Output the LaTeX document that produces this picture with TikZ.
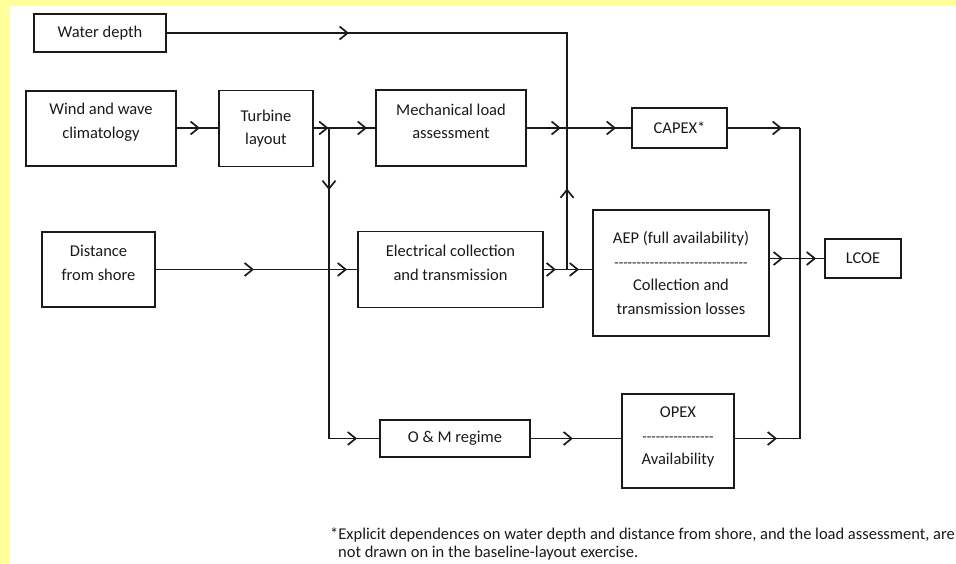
\documentclass[tikz,border=0pt]{standalone}
\usepackage{fontspec}
\setmainfont{Carlito}
\usetikzlibrary{arrows.meta,decorations.markings}
\definecolor{bgyel}{HTML}{FFFF99}
\definecolor{ink}{HTML}{1A1A1A}
\newcommand\hyph[1]{\foreach \i in {1,...,#1}{-\kern0pt}}
\tikzset{
  box/.style={draw=ink,line width=1.9pt,align=center,inner sep=0pt,
    font=\fontsize{16.5}{23.5}\selectfont,text=ink},
  lbl/.style={align=center,inner sep=0pt,font=\fontsize{16.5}{23.5}\selectfont,text=ink},
  conn/.style={draw=ink,line width=1.7pt},
  ch/.style={postaction={decorate,decoration={markings,
    mark=at position #1 with {\arrow{Straight Barb[length=8pt,width=13pt]}}}}},
  fnote/.style={anchor=base west,inner sep=0pt,font=\fontsize{16.5}{18}\selectfont,text=ink}
}
\begin{document}
\begin{tikzpicture}[x=1pt,y=-1pt]
\useasboundingbox (0,0) rectangle (956,564);
\fill[bgyel] (0,0) rectangle (956,564);
\fill[white] (10,6) rectangle (956,564);

% boxes
\node[box,minimum width=132pt,minimum height=38pt] (wd) at (100,33) {Water depth};
\node[box,minimum width=150pt,minimum height=75pt,
  label={[lbl,name=windt,yshift=6.5pt]center:{Wind and wave\\climatology}}] (wind) at (101,128.5) {};
\node[box,minimum width=94pt,minimum height=76pt] (turb) at (266,128.5) {Turbine\\layout};
\node[box,minimum width=150pt,minimum height=76pt,
  label={[lbl,name=mecht,yshift=6.5pt]center:{Mechanical load\\assessment}}] (mech) at (451,128) {};
\node[box,minimum width=95pt,minimum height=40pt] (capex) at (679.5,128) {CAPEX*};
\node[box,minimum width=113pt,minimum height=75pt,
  label={[lbl,name=distt,yshift=6.5pt]center:{Distance\\from shore}}] (dist) at (98.5,269.5) {};
\node[box,minimum width=185pt,minimum height=76pt,
  label={[lbl,name=elect,yshift=6.5pt]center:{Electrical collection\\and transmission}}] (elec) at (450.5,269.5) {};
\node[box,minimum width=176pt,minimum height=126pt] (aep) at (681,273)
  {AEP (full availability)\\{\fontsize{14.5}{23.5}\selectfont\hyph{30}}\\Collection and\\transmission losses};
\node[box,minimum width=76pt,minimum height=39pt] (lcoe) at (863,258.5) {LCOE};
\node[box,minimum width=150pt,minimum height=37pt] (om) at (455,438.5) {O \& M regime};
\node[box,minimum width=112pt,minimum height=94pt,
  label={[lbl,name=opext,yshift=4pt]center:{OPEX\\{\fontsize{14.5}{23.5}\selectfont\hyph{16}}\\Availability}}] (opex) at (678,441) {};

% junction points
\coordinate (jt) at (329,128);
\coordinate (jc) at (567,128);
\coordinate (je) at (567,269.5);
\coordinate (bt) at (800,128);
\coordinate (bb) at (800,438.5);

% connectors
\draw[conn,ch=23pt] (wind.east |- jt) -- (turb.west |- jt);
\draw[conn,ch=-0.5pt] (turb.east |- jt) -- (jt);
\draw[conn,ch=-8pt] (jt) -- (mech.west);
\draw[conn,ch=62pt,ch=-22pt] (jt) |- (om.west);
\draw[conn,ch=34pt,ch=-15pt] (mech.east) -- (capex.west);
\draw[conn,ch=182pt] (wd.east) -| (jc);
\draw[conn,ch=81pt] (je) -- (jc);
\draw[conn,ch=98pt,ch=-10pt] (dist.east) -- (elec.west);
\draw[conn,ch=12pt,ch=-13pt] (elec.east) -- (elec.east -| aep.west);
\draw[conn,ch=-18pt] (capex.east) -- (bt);
\draw[conn] (bt) -- (bb);
\draw[conn,ch=42pt] (om.east) -- (om.east -| opex.west);
\draw[conn,ch=-23pt] (opex.east |- bb) -- (bb);
\draw[conn,ch=13pt,ch=-8pt] (aep.east |- lcoe.west) -- (lcoe.west);

% footnote
\node[fnote] (fn1) at (330,539) {*Explicit dependences on water depth and distance from shore, and the load assessment, are};
\node[fnote] (fn2) at (338,557) {not drawn on in the baseline-layout exercise.};
\end{tikzpicture}
\end{document}
